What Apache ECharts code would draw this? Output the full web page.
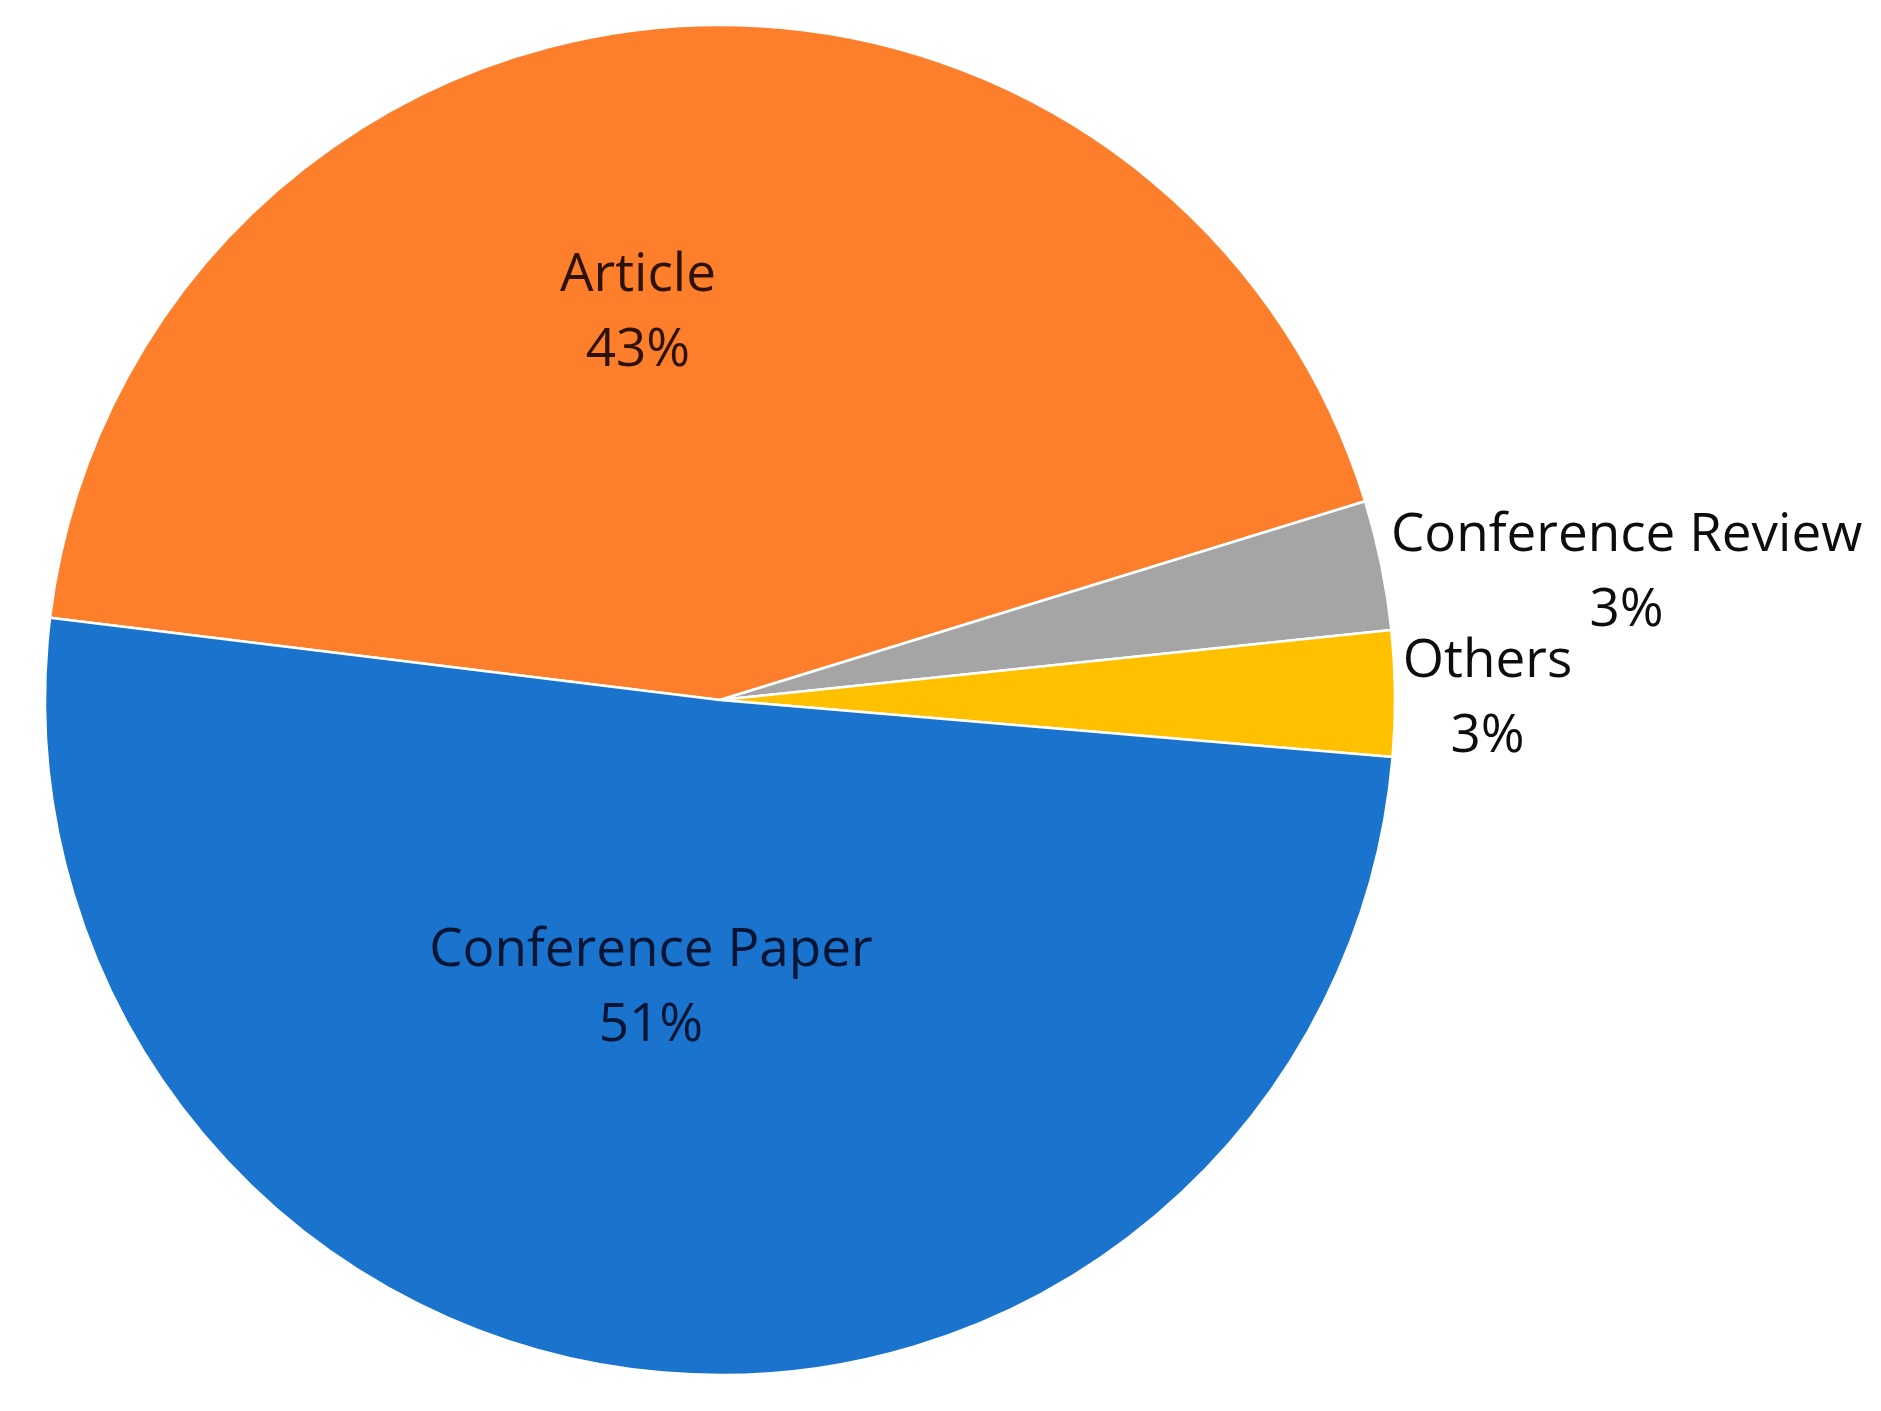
<!DOCTYPE html>
<html>
<head>
<meta charset="utf-8">
<script src="https://cdn.jsdelivr.net/npm/echarts@6/dist/echarts.min.js"></script>
<style>
html,body{margin:0;padding:0;background:#fff;}
#chart{width:1881px;height:1411px;}
</style>
</head>
<body>
<div id="chart"></div>
<script>
const categories = ['Article', 'Conference Review', 'Others', 'Conference Paper'];
const values = [43.3, 3.1, 3.0, 50.6];
const colors = ['#FE7F2B', '#A5A5A5', '#FFC000', '#1A73CC'];
const labelColors = ['#2e1200', '#0d0d0d', '#0d0d0d', '#061534'];
// label nudges (pixels) relative to the default inside position
const labelShift = [[-52, -47], [573, -58], [427, 3], [-34, -50]];

const chart = echarts.init(document.getElementById('chart'), null, {renderer: 'canvas'});
chart.setOption({
  animation: false,
  series: [{
    type: 'pie',
    center: [720, 700],
    radius: [0, 675],
    startAngle: 173,
    clockwise: true,
    percentPrecision: 0,
    itemStyle: {borderColor: '#ffffff', borderWidth: 2.5},
    label: {
      show: true,
      position: 'inside',
      formatter: '{b}\n{d}%',
      fontFamily: 'Open Sans',
      fontSize: 53,
      lineHeight: 75,
      align: 'center'
    },
    labelLine: {show: false},
    labelLayout: function (p) {
      const s = labelShift[p.dataIndex];
      return {dx: s[0], dy: s[1]};
    },
    emphasis: {disabled: true},
    data: categories.map((c, i) => ({
      name: c,
      value: values[i],
      itemStyle: {color: colors[i]},
      label: {color: labelColors[i]}
    }))
  }]
});
</script>
</body>
</html>
